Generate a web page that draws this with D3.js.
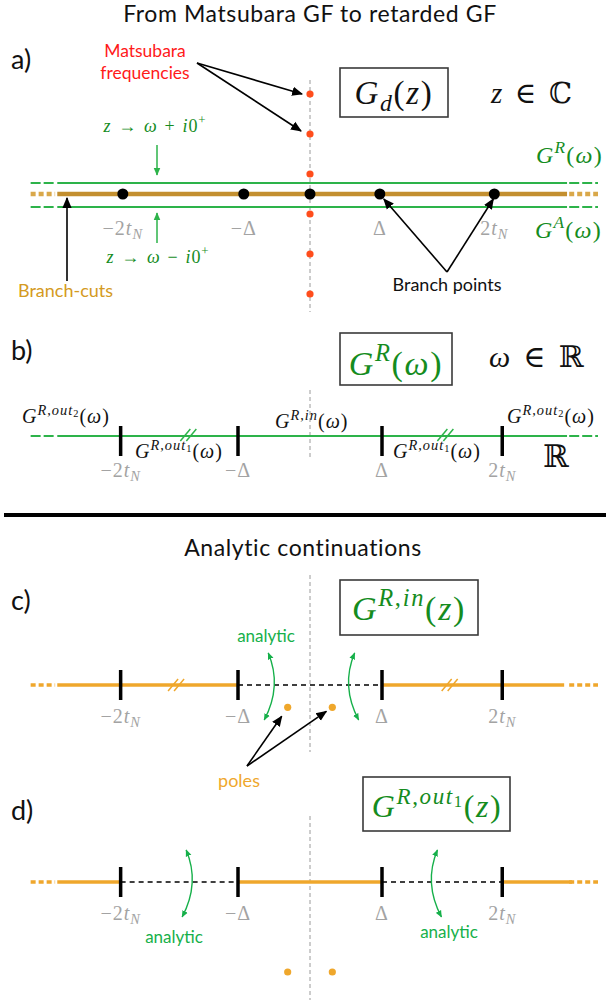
<!DOCTYPE html>
<html>
<head>
<meta charset="utf-8">
<script src="https://cdn.jsdelivr.net/npm/d3@7"></script>
<style>
  body { margin: 0; background: #fff; }
  text { white-space: pre; }
</style>
</head>
<body>
<svg id="fig"></svg>
<script>
// ---- values (energies in units of Delta) ----
const matsubaraFreqs = [5, 3, 1, -1, -3, -5];          // (2n+1) pi T
const branchPointsA = [-2.60, -0.92, 0, 0.97, 2.56];
const branchLabelsA = ['−2t_N', '−Δ', '', 'Δ', '2t_N'];
const tickValues = [-2.63, -1, 1, 2.67];
const tickLabels = ['−2t_N', '−Δ', 'Δ', '2t_N'];
const lineExtent = [-3.51, 3.57];
const breaksB = [-1.69, 1.88];
const breaksC = [-1.86, 1.94];
const segmentsC = [[-3.51, -1, 'cut'], [-1, 1, 'ok'], [1, 3.53, 'cut']];
const segmentsD = [[-3.51, -2.63, 'cut'], [-2.63, -1, 'ok'], [-1, 1, 'cut'], [1, 2.67, 'ok'], [2.67, 3.64, 'cut']];
const polesC = [[-0.31, -0.31], [0.31, -0.31]];
const polesD = [[-0.31, -1.25], [0.31, -1.25]];
const analyticC = [-0.58, 0.62];
const analyticD = [-1.72, 1.77];
const labelsB = [
  ['G^{R,out_2}(ω)', 22, 423], ['G^{R,out_1}(ω)', 135, 458], ['G^{R,in}(ω)', 275, 428],
  ['G^{R,out_1}(ω)', 393, 458], ['G^{R,out_2}(ω)', 507, 423]
];

const W = 606, H = 1002;
const GREEN = '#2db34a', TEXTGREEN = '#158c1e', ANAGREEN = '#16b04a';
const BROWN = '#c38f2f', ORANGE = '#efa72c', GRAY = '#a3a3a3';
const SANS = 'Lato, "Open Sans", sans-serif';
const SERIF = '"Liberation Serif", "DejaVu Serif", serif';

const svg = d3.select('#fig').attr('width', W).attr('height', H);
const x = d3.scaleLinear().domain([-1, 1]).range([238, 382]);
const x0 = x(0);
const yA = 194, yB = 436, yC = 685, yD = 882;
const yMats = d3.scaleLinear().domain([0, 1]).range([yA, yA - 20]);
const imC = d3.scaleLinear().domain([0, -1]).range([yC, yC + 72]);
const imD = d3.scaleLinear().domain([0, -1]).range([yD, yD + 72]);

// markers
const defs = svg.append('defs');
function marker(id, color, size) {
  defs.append('marker').attr('id', id)
    .attr('viewBox', '0 0 10 10').attr('refX', 9).attr('refY', 5)
    .attr('markerWidth', size).attr('markerHeight', size)
    .attr('markerUnits', 'userSpaceOnUse').attr('orient', 'auto-start-reverse')
    .append('path').attr('d', 'M0,0.8 L10,5 L0,9.2 z').attr('fill', color);
}
marker('ah-black', '#000', 11);
marker('ah-green', GREEN, 8);
marker('ah-green-s', ANAGREEN, 7);

// tiny TeX-ish renderer: ^ and _ with {groups}
function texRuns(s) {
  const out = [];
  (function parse(str, shift, scale) {
    let i = 0;
    while (i < str.length) {
      const c = str[i];
      if (c === '^' || c === '_') {
        i++;
        let grp;
        if (str[i] === '{') {
          let depth = 1, j = i + 1;
          while (depth) { if (str[j] === '{') depth++; else if (str[j] === '}') depth--; j++; }
          grp = str.slice(i + 1, j - 1); i = j;
        } else { grp = str[i]; i++; }
        const ns = c === '^' ? shift - 0.42 * scale : shift + (shift < 0 ? 0.16 : 0.22) * scale;
        parse(grp, ns, scale * 0.72);
      } else {
        const ch = c === ' ' ? '\u2004' : c;
        const it = /[A-Za-zω]/.test(c);
        const last = out[out.length - 1];
        if (last && last.shift === shift && last.scale === scale && last.it === it) last.t += ch;
        else out.push({ t: ch, shift, scale, it });
        i++;
      }
    }
  })(s, 0, 1);
  return out;
}
function tex(g, str, px, py, size, color, anchor) {
  const t = g.append('text').attr('x', px).attr('y', py)
    .attr('font-family', SERIF).attr('font-size', size).attr('fill', color)
    .attr('letter-spacing', (0.05 * size).toFixed(2))
    .attr('text-anchor', anchor || 'start');
  let cur = 0;
  texRuns(str).forEach(r => {
    t.append('tspan').attr('dy', (r.shift - cur) * size)
      .attr('font-size', size * r.scale)
      .attr('font-style', r.it ? 'italic' : 'normal').text(r.t);
    cur = r.shift;
  });
  return t;
}
function sans(g, str, px, py, size, color, anchor) {
  return g.append('text').attr('x', px).attr('y', py).attr('font-family', SANS)
    .attr('font-size', size).attr('fill', color).attr('text-anchor', anchor || 'start').text(str);
}
function vdash(y1, y2) {
  svg.append('line').attr('x1', x0).attr('x2', x0).attr('y1', y1).attr('y2', y2)
    .attr('stroke', '#9a9a9a').attr('stroke-width', 1).attr('stroke-dasharray', '4,3');
}
function arrow(x1, y1, x2, y2, color, mk, w) {
  svg.append('line').attr('x1', x1).attr('y1', y1).attr('x2', x2).attr('y2', y2)
    .attr('stroke', color).attr('stroke-width', w || 1.6).attr('marker-end', `url(#${mk})`);
}
function tails(y, color, w, dash) {
  [[-3.88, -3.54], [3.6, 4.0]].forEach(([a, b]) => {
    svg.append('line').attr('x1', x(a)).attr('x2', x(b)).attr('y1', y).attr('y2', y)
      .attr('stroke', color).attr('stroke-width', w).attr('stroke-dasharray', dash);
  });
}
function breakMark(xc, y, color) {
  [-4, 2].forEach(d => {
    svg.append('line').attr('x1', xc + d - 4).attr('y1', y + 6).attr('x2', xc + d + 6).attr('y2', y - 6)
      .attr('stroke', color).attr('stroke-width', 1.5);
  });
}
function box(x1, y1, x2, y2) {
  svg.append('rect').attr('x', x1).attr('y', y1).attr('width', x2 - x1).attr('height', y2 - y1)
    .attr('fill', 'none').attr('stroke', '#3a3a3a').attr('stroke-width', 1.6);
}

// ---------------- titles ----------------
sans(svg, 'From Matsubara GF to retarded GF', 310, 22, 23, '#111', 'middle').attr('letter-spacing', 0.6);
sans(svg, 'Analytic continuations', 303, 556, 23, '#111', 'middle').attr('letter-spacing', 0.6);
[['a)', 69], ['b)', 360], ['c)', 610], ['d)', 820]].forEach(([s, yy]) => sans(svg, s, 11, yy, 27, '#111'));

// ---------------- panel a ----------------
vdash(80, 312);
svg.selectAll('.mats').data(matsubaraFreqs).enter().append('circle')
  .attr('cx', x0).attr('cy', d => yMats(d)).attr('r', 3.6).attr('fill', '#ff4d1c');

[[-11, GREEN, 2], [13, GREEN, 2]].forEach(([off, c, w]) => {
  svg.append('line').attr('x1', x(lineExtent[0])).attr('x2', x(lineExtent[1]))
    .attr('y1', yA + off).attr('y2', yA + off).attr('stroke', c).attr('stroke-width', w);
  tails(yA + off, c, w, '10,3');
});
svg.append('line').attr('x1', x(lineExtent[0])).attr('x2', x(lineExtent[1]))
  .attr('y1', yA).attr('y2', yA).attr('stroke', BROWN).attr('stroke-width', 4.5);
tails(yA, '#d9a84a', 4.5, '5,3');

svg.selectAll('.bp').data(branchPointsA).enter().append('circle')
  .attr('cx', d => x(d)).attr('cy', yA).attr('r', 5.5).attr('fill', '#000');
branchPointsA.forEach((v, i) => { if (branchLabelsA[i]) tex(svg, branchLabelsA[i], x(v), 235, 20, GRAY, 'middle'); });

box(340, 68, 448, 117);
tex(svg, 'G_d(z)', 394, 104, 33, '#111', 'middle');
tex(svg, 'z ∈ ℂ', 491, 103, 29, '#111');
tex(svg, 'G^R(ω)', 536, 163, 24, TEXTGREEN);
tex(svg, 'G^A(ω)', 535, 238, 24, TEXTGREEN);

sans(svg, 'Matsubara', 145, 57, 17.5, '#ff1a1a', 'middle');
sans(svg, 'frequencies', 145, 79, 17.5, '#ff1a1a', 'middle');
arrow(197, 63, x0 - 8, yMats(5), '#000', 'ah-black');
arrow(197, 63, x0 - 9, yMats(3) - 3, '#000', 'ah-black');

tex(svg, 'z → ω + i0^+', 155, 132, 18, TEXTGREEN, 'middle');
tex(svg, 'z → ω − i0^+', 158, 263, 18, TEXTGREEN, 'middle');
arrow(157, 145, 157, yA - 19, GREEN, 'ah-green', 1.5);
arrow(157, 243, 157, yA + 19, GREEN, 'ah-green', 1.5);

arrow(67, 281, 67, yA + 4, '#000', 'ah-black');
sans(svg, 'Branch-cuts', 18, 297, 18, '#d49a22');
arrow(447, 272, x(branchPointsA[3]) + 4, yA + 5, '#000', 'ah-black');
arrow(447, 272, x(branchPointsA[4]) - 1, yA + 5, '#000', 'ah-black');
sans(svg, 'Branch points', 447, 291, 18, '#111', 'middle');

// ---------------- panel b ----------------
vdash(390, 460);
svg.append('line').attr('x1', x(lineExtent[0])).attr('x2', x(lineExtent[1]))
  .attr('y1', yB).attr('y2', yB).attr('stroke', GREEN).attr('stroke-width', 2);
tails(yB, GREEN, 2, '10,3');
breaksB.forEach(v => breakMark(x(v), yB - 1, GREEN));
svg.selectAll('.tb').data(tickValues).enter().append('line')
  .attr('x1', d => x(d)).attr('x2', d => x(d)).attr('y1', yB - 10).attr('y2', yB + 20)
  .attr('stroke', '#000').attr('stroke-width', 3.5);
tickValues.forEach((v, i) => tex(svg, tickLabels[i], x(v), 477, 20, GRAY, 'middle'));
labelsB.forEach(([s, lx, ly]) => tex(svg, s, lx, ly, 20, '#111'));
box(340, 333, 452, 385);
tex(svg, 'G^R(ω)', 396, 375, 34, TEXTGREEN, 'middle');
tex(svg, 'ω ∈ ℝ', 489, 367, 30, '#111');
tex(svg, 'ℝ', 543, 467, 31, '#111');

// separator
svg.append('line').attr('x1', 4).attr('x2', W).attr('y1', 515).attr('y2', 515)
  .attr('stroke', '#000').attr('stroke-width', 4);

// ---------------- panels c, d ----------------
function cutLine(y, segs) {
  segs.forEach(([a, b, kind]) => {
    svg.append('line').attr('x1', x(a)).attr('x2', x(b)).attr('y1', y).attr('y2', y)
      .attr('stroke', kind === 'cut' ? ORANGE : '#000')
      .attr('stroke-width', kind === 'cut' ? 3.5 : 1.4)
      .attr('stroke-dasharray', kind === 'cut' ? null : '5,4');
  });
  tails(y, ORANGE, 3.5, '5,3');
  svg.selectAll(null).data(tickValues).enter().append('line')
    .attr('x1', d => x(d)).attr('x2', d => x(d)).attr('y1', y - 15).attr('y2', y + 15)
    .attr('stroke', '#000').attr('stroke-width', 3.5);
}
function analyticArrow(v, y) {
  const xs = x(v), dir = v < 0 ? 1 : -1;
  const xb = xs - 4 * dir;
  const xc = (xs + xb) / 2 + 16 * dir;
  svg.append('path').attr('d', `M${xs},${y - 32} Q${xc},${y + 1} ${xb},${y + 35}`)
    .attr('fill', 'none').attr('stroke', ANAGREEN).attr('stroke-width', 1.4)
    .attr('marker-start', 'url(#ah-green-s)').attr('marker-end', 'url(#ah-green-s)');
}

vdash(575, 752);
cutLine(yC, segmentsC);
breaksC.forEach(v => breakMark(x(v), yC, ORANGE));
tickValues.forEach((v, i) => tex(svg, tickLabels[i], x(v), 723, 20, GRAY, 'middle'));
analyticC.forEach(v => analyticArrow(v, yC));
sans(svg, 'analytic', 266, 642, 17, ANAGREEN, 'middle');
svg.selectAll(null).data(polesC).enter().append('circle')
  .attr('cx', d => x(d[0])).attr('cy', d => imC(d[1])).attr('r', 3.6).attr('fill', ORANGE);
arrow(247, 766, x(polesC[0][0]) - 6, imC(polesC[0][1]) + 9, '#000', 'ah-black');
arrow(247, 766, x(polesC[1][0]) - 6, imC(polesC[1][1]) + 4, '#000', 'ah-black');
sans(svg, 'poles', 239, 787, 18, ORANGE, 'middle');
box(340, 580, 478, 635);
tex(svg, 'G^{R,in}(z)', 409, 620, 34, TEXTGREEN, 'middle');

vdash(816, 1000);
cutLine(yD, segmentsD);
tickValues.forEach((v, i) => tex(svg, tickLabels[i], x(v), 920, 20, GRAY, 'middle'));
analyticD.forEach(v => analyticArrow(v, yD));
sans(svg, 'analytic', 174, 943, 17, ANAGREEN, 'middle');
sans(svg, 'analytic', 449, 938, 17, ANAGREEN, 'middle');
svg.selectAll(null).data(polesD).enter().append('circle')
  .attr('cx', d => x(d[0])).attr('cy', d => imD(d[1])).attr('r', 3.6).attr('fill', ORANGE);
box(363, 777, 510, 831);
tex(svg, 'G^{R,out_1}(z)', 437, 817, 32, TEXTGREEN, 'middle');
</script>
</body>
</html>
